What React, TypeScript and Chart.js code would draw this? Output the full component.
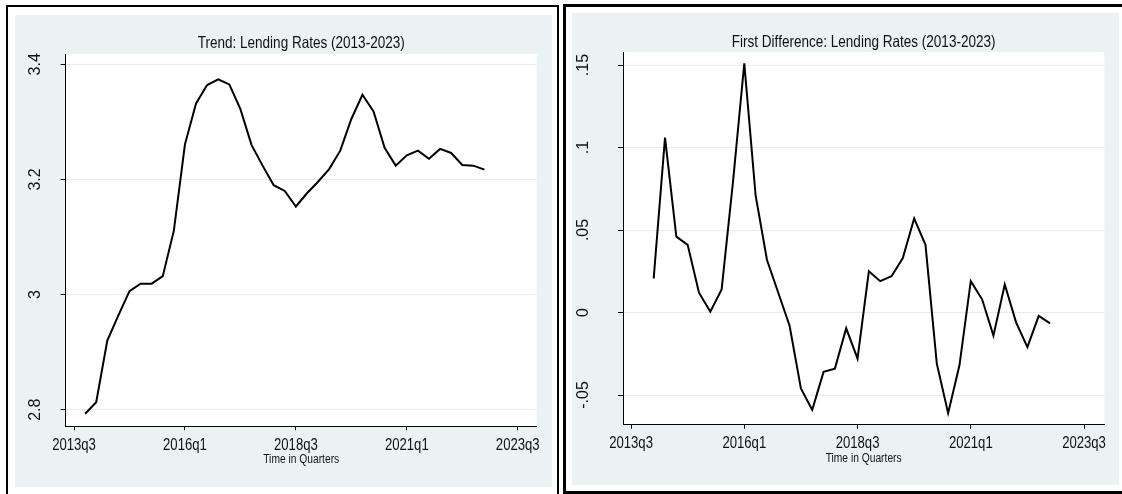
import React, { useEffect, useRef } from "react";
import { Chart, registerables } from "chart.js";

Chart.register(...registerables);

// ---------- data ----------
const quarters = [
  "2013q4", "2014q1", "2014q2", "2014q3", "2014q4", "2015q1", "2015q2", "2015q3", "2015q4",
  "2016q1", "2016q2", "2016q3", "2016q4", "2017q1", "2017q2", "2017q3", "2017q4",
  "2018q1", "2018q2", "2018q3", "2018q4", "2019q1", "2019q2", "2019q3", "2019q4",
  "2020q1", "2020q2", "2020q3", "2020q4", "2021q1", "2021q2", "2021q3", "2021q4",
  "2022q1", "2022q2", "2022q3", "2022q4",
];

const trendValues = [
  2.793, 2.813, 2.92, 2.964, 3.006, 3.019, 3.019, 3.032, 3.111,
  3.261, 3.332, 3.364, 3.374, 3.365, 3.322, 3.26, 3.224,
  3.19, 3.18, 3.153, 3.176, 3.196, 3.218, 3.25, 3.305,
  3.347, 3.318, 3.255, 3.224, 3.242, 3.25, 3.236, 3.253,
  3.246, 3.225, 3.224, 3.217,
];

const diffQuarters = quarters.slice(1);
const diffValues = [
  0.0207, 0.106, 0.046, 0.041, 0.012, 0.0005, 0.014, 0.079,
  0.151, 0.071, 0.032, 0.012, -0.008, -0.046, -0.059, -0.036,
  -0.034, -0.0096, -0.028, 0.025, 0.019, 0.022, 0.033, 0.057,
  0.041, -0.031, -0.061, -0.032, 0.019, 0.008, -0.014, 0.017,
  -0.006, -0.021, -0.002, -0.0066,
];

const xTickLabels = ["2013q3", "2016q1", "2018q3", "2021q1", "2023q3"];
const trendYTicks = [2.8, 3.0, 3.2, 3.4];
const trendYLabels = ["2.8", "3", "3.2", "3.4"];
const diffYTicks = [-0.05, 0, 0.05, 0.1, 0.15];
const diffYLabels = ["-.05", "0", ".05", ".1", ".15"];

const trendTitle = "Trend: Lending Rates (2013-2023)";
const diffTitle = "First Difference: Lending Rates (2013-2023)";
const xAxisTitle = "Time in Quarters";

// ---------- style ----------
const FONT = "'Liberation Sans', Arial, sans-serif";
const TEXT = "#111";
const BG = "#eaf2f3";
const GRID = "#e4ecee";
const SQUEEZE = 0.82; // horizontal text in the reference is condensed

const qIndex = (s: string) => {
  const [y, q] = s.split("q").map(Number);
  return (y - 2013) * 4 + (q - 3);
};

const plotBg = {
  id: "plotBg",
  beforeDraw(chart: any) {
    const { ctx, chartArea } = chart;
    if (!chartArea) return;
    ctx.save();
    ctx.fillStyle = "#ffffff";
    ctx.fillRect(chartArea.left, chartArea.top, chartArea.right - chartArea.left, chartArea.bottom - chartArea.top);
    ctx.restore();
  },
};

// title centred over the plot region (as Stata does)
const stataTitle = {
  id: "stataTitle",
  afterDraw(chart: any, _args: any, opts: any) {
    const { ctx, chartArea } = chart;
    if (!chartArea || !opts || !opts.text) return;
    ctx.save();
    ctx.font = `normal 16.5px ${FONT}`;
    ctx.fillStyle = TEXT;
    ctx.textAlign = "center";
    ctx.textBaseline = "middle";
    ctx.fillText(opts.text, (chartArea.left + chartArea.right) / 2, opts.y);
    ctx.restore();
  },
};

type Cfg = {
  width: number;
  height: number;
  title: string;
  titleY: number;
  labels: string[];
  values: number[];
  yTicks: number[];
  yLabels: string[];
  yMin: number;
  yMax: number;
  xMin: number;
  xMax: number;
  yAxisWidth: number;
  xAxisHeight: number;
  padRight: number;
  padTop: number;
  yTickPad: number;
  xTickPad: number;
  xTitleBottom: number;
};

function StataLine({ cfg }: { cfg: Cfg }) {
  const ref = useRef<HTMLCanvasElement>(null);
  useEffect(() => {
    const canvas = ref.current!;
    const ctx = canvas.getContext("2d")! as any;
    if (!ctx.__squeezed) {
      const orig = ctx.fillText.bind(ctx);
      ctx.fillText = (text: string, x: number, y: number) => {
        const t = ctx.getTransform();
        if (Math.abs(t.b) > 1e-6) {
          orig(text, x, y);
          return;
        }
        ctx.save();
        ctx.translate(x, y);
        ctx.scale(SQUEEZE, 1);
        orig(text, 0, 0);
        ctx.restore();
      };
      ctx.__squeezed = true;
    }
    const chart = new Chart(canvas, {
      type: "line",
      data: {
        datasets: [
          {
            data: cfg.labels.map((l, i) => ({ x: qIndex(l), y: cfg.values[i] })),
            borderColor: "#000",
            borderWidth: 2,
            pointRadius: 0,
            tension: 0,
            fill: false,
          },
        ],
      },
      options: {
        responsive: false,
        maintainAspectRatio: false,
        animation: false,
        layout: { padding: { left: 0, right: cfg.padRight, top: cfg.padTop, bottom: 0 } },
        plugins: {
          legend: { display: false },
          tooltip: { enabled: false },
          title: { display: false },
          stataTitle: { text: cfg.title, y: cfg.titleY },
        },
        scales: {
          x: {
            type: "linear",
            min: cfg.xMin,
            max: cfg.xMax,
            bounds: "data",
            afterBuildTicks: (s: any) => {
              s.ticks = xTickLabels.map((l) => ({ value: qIndex(l) }));
            },
            afterFit: (s: any) => {
              s.height = cfg.xAxisHeight;
            },
            ticks: {
              callback: (_v: any, i: number) => xTickLabels[i],
              color: TEXT,
              font: { family: FONT, size: 16 },
              padding: cfg.xTickPad,
              minRotation: 0,
              maxRotation: 0,
              autoSkip: false,
            },
            grid: {
              drawOnChartArea: false,
              drawTicks: true,
              tickLength: 4,
              tickColor: "#000",
              color: "#000",
            },
            border: { display: true, color: "#000", width: 1 },
            title: {
              display: true,
              text: xAxisTitle,
              color: TEXT,
              font: { family: FONT, size: 12.5 },
              padding: { top: 0, bottom: cfg.xTitleBottom },
            },
          },
          y: {
            type: "linear",
            min: cfg.yMin,
            max: cfg.yMax,
            bounds: "data",
            afterBuildTicks: (s: any) => {
              s.ticks = cfg.yTicks.map((v) => ({ value: v }));
            },
            afterFit: (s: any) => {
              s.width = cfg.yAxisWidth;
            },
            ticks: {
              callback: (_v: any, i: number) => cfg.yLabels[i],
              color: TEXT,
              font: { family: FONT, size: 16 },
              minRotation: 90,
              maxRotation: 90,
              crossAlign: "center",
              padding: cfg.yTickPad,
              autoSkip: false,
            },
            grid: {
              color: GRID,
              lineWidth: 1,
              tickColor: "#000",
              tickLength: 5,
            },
            border: { display: true, color: "#000", width: 1 },
          },
        },
      } as any,
      plugins: [plotBg, stataTitle],
    });
    return () => chart.destroy();
  }, [cfg]);
  return <canvas ref={ref} width={cfg.width} height={cfg.height} style={{ display: "block", width: cfg.width, height: cfg.height }} />;
}

const leftCfg: Cfg = {
  width: 537,
  height: 472,
  title: trendTitle,
  titleY: 28,
  labels: quarters,
  values: trendValues,
  yTicks: trendYTicks,
  yLabels: trendYLabels,
  yMin: 2.7712,
  yMax: 3.4179,
  xMin: -0.75,
  xMax: 41.71,
  yAxisWidth: 50.7,
  xAxisHeight: 60.7,
  padRight: 15.3,
  padTop: 39,
  yTickPad: 14.1,
  xTickPad: 5.8,
  xTitleBottom: 19.9,
};

const rightCfg: Cfg = {
  width: 547,
  height: 472,
  title: diffTitle,
  titleY: 29,
  labels: diffQuarters,
  values: diffValues,
  yTicks: diffYTicks,
  yLabels: diffYLabels,
  yMin: -0.068,
  yMax: 0.1577,
  xMin: -0.71,
  xMax: 41.79,
  yAxisWidth: 51,
  xAxisHeight: 60.3,
  padRight: 14.7,
  padTop: 39.3,
  yTickPad: 20.2,
  xTickPad: 5.0,
  xTitleBottom: 18.5,
};

export default function App() {
  return (
    <div style={{ position: "fixed", left: 0, top: 0, width: 1122, height: 494, background: "#fff", overflow: "hidden" }}>
      <div style={{ position: "absolute", left: 6, top: 5, width: 553, height: 600, border: "2px solid #000", boxSizing: "border-box" }} />
      <div style={{ position: "absolute", left: 15, top: 15, width: 537, height: 472, background: BG }}>
        <StataLine cfg={leftCfg} />
      </div>
      <div style={{ position: "absolute", left: 563, top: 4, width: 700, height: 490, border: "3px solid #000", boxSizing: "border-box" }} />
      <div style={{ position: "absolute", left: 572, top: 13, width: 547, height: 472, background: BG }}>
        <StataLine cfg={rightCfg} />
      </div>
    </div>
  );
}
